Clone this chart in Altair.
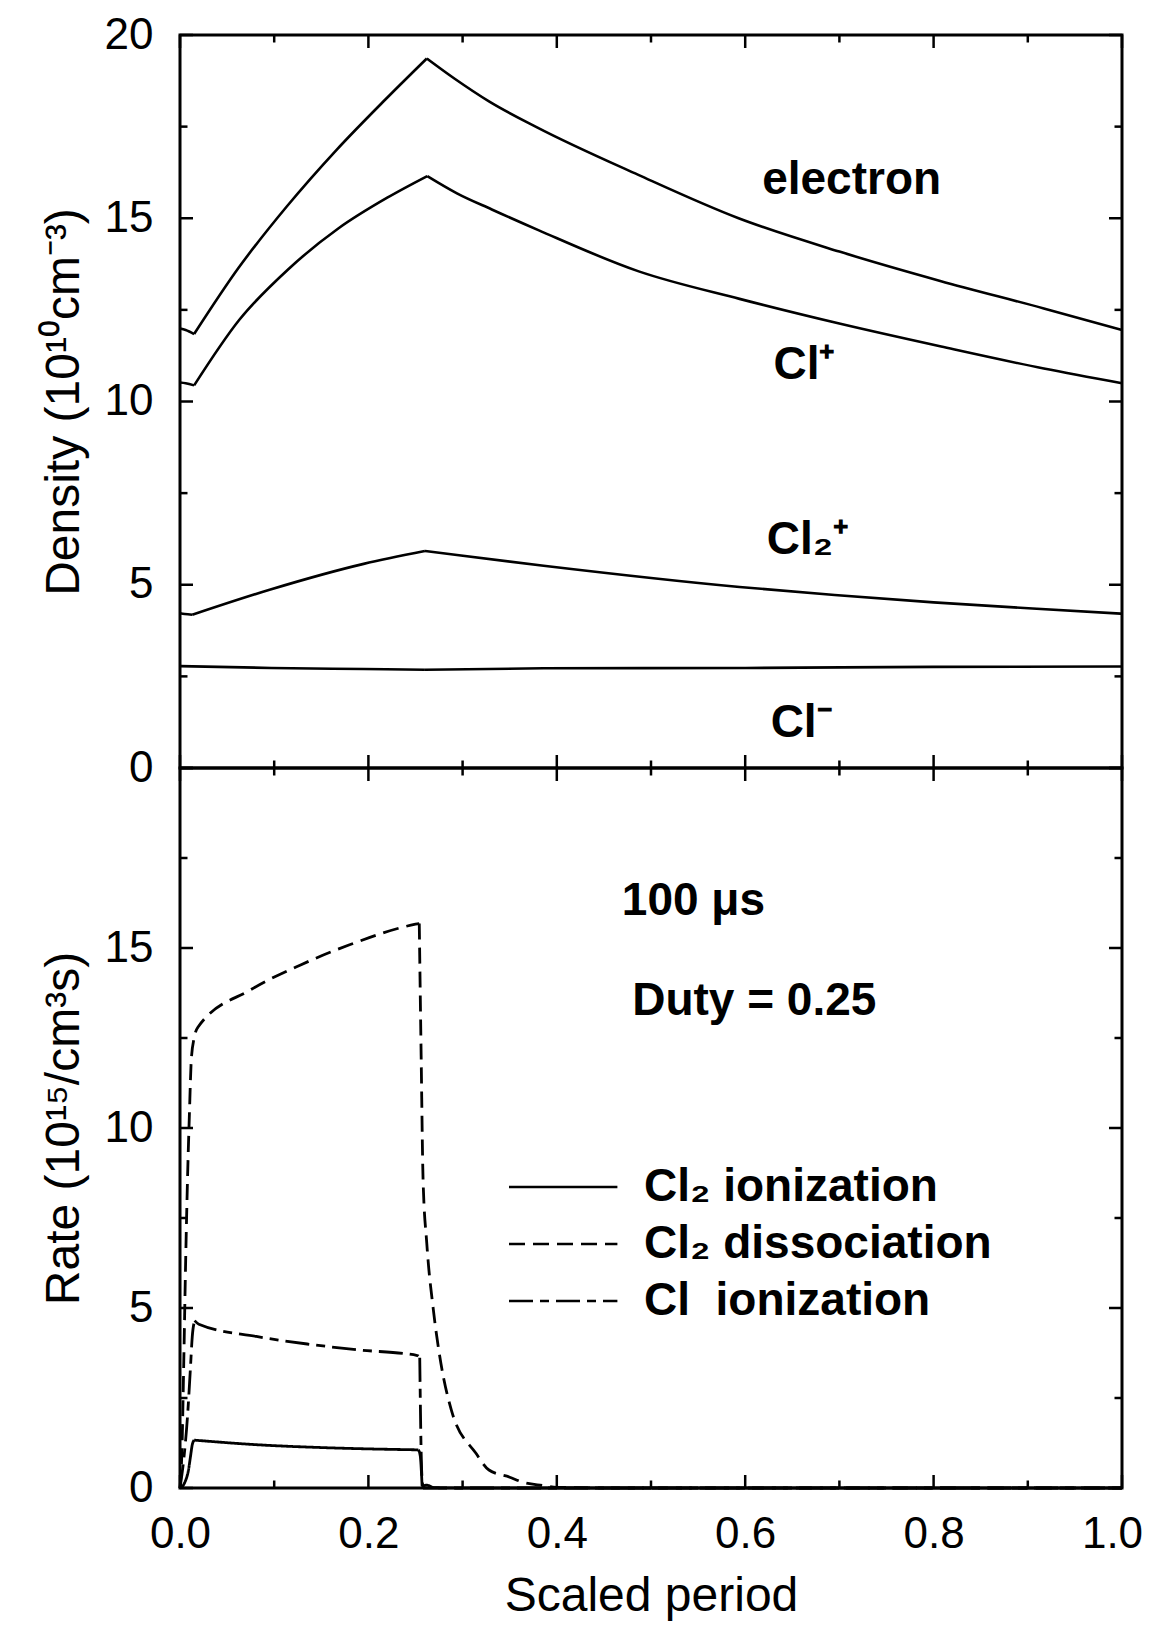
import altair as alt
import pandas as pd

# ---------------- values ----------------
# Upper panel: densities (10^10 cm^-3) against scaled period
electron_x = [0.0, 0.006, 0.015, 0.062, 0.114, 0.166, 0.218, 0.262, 0.292, 0.328, 0.379, 0.486, 0.593, 0.700, 0.807, 0.917, 1.0]
electron_y = [11.99, 11.95, 11.84, 13.64, 15.34, 16.86, 18.24, 19.36, 18.80, 18.19, 17.48, 16.19, 15.0, 14.09, 13.29, 12.54, 11.95]
clp_x = [0.0, 0.006, 0.015, 0.063, 0.115, 0.168, 0.220, 0.2625, 0.294, 0.331, 0.381, 0.487, 0.594, 0.701, 0.808, 0.917, 1.0]
clp_y = [10.52, 10.50, 10.44, 12.23, 13.61, 14.72, 15.56, 16.15, 15.68, 15.24, 14.67, 13.55, 12.80, 12.12, 11.50, 10.90, 10.50]
cl2p_x = [0.0, 0.005, 0.013, 0.096, 0.195, 0.260, 0.294, 0.386, 0.594, 0.695, 0.80, 0.905, 1.0]
cl2p_y = [4.22, 4.20, 4.18, 4.87, 5.57, 5.92, 5.81, 5.52, 4.94, 4.72, 4.52, 4.35, 4.21]
clm_x = [0.0, 0.097, 0.195, 0.26, 0.386, 0.6, 0.8, 1.0]
clm_y = [2.78, 2.73, 2.70, 2.68, 2.72, 2.73, 2.76, 2.77]

# Lower panel: rates (10^15 /cm^3 s) against scaled period
cl2_ion_x = [0.0, 0.005, 0.009, 0.011, 0.013, 0.015, 0.083, 0.154, 0.253, 0.255, 0.257, 0.262, 0.27, 0.30, 1.0]
cl2_ion_y = [0.0, 0.15, 0.5, 0.85, 1.2, 1.33, 1.20, 1.12, 1.06, 0.9, 0.05, 0.08, 0.01, 0.0, 0.0]
cl2_dis_x = [0.0, 0.002, 0.004, 0.006, 0.008, 0.010, 0.012, 0.015, 0.019, 0.075, 0.128, 0.180, 0.250, 0.254,
             0.256, 0.258, 0.262, 0.269, 0.277, 0.288, 0.314, 0.328, 0.35, 0.364, 0.385, 0.40, 0.45, 1.0]
cl2_dis_y = [0.0, 1.0, 3.5, 6.3, 8.6, 10.4, 11.9, 12.5, 12.8, 13.84, 14.53, 15.09, 15.66, 15.68,
             12.0, 8.6, 6.79, 4.94, 3.46, 2.17, 0.97, 0.5, 0.3, 0.16, 0.07, 0.02, 0.0, 0.0]
cl_ion_x = [0.0, 0.004, 0.008, 0.011, 0.013, 0.0155, 0.02, 0.081, 0.135, 0.188, 0.252, 0.2545, 0.2565, 0.258, 1.0]
cl_ion_y = [0.0, 0.8, 2.0, 3.3, 4.2, 4.65, 4.55, 4.21, 4.00, 3.84, 3.68, 3.62, 0.5, 0.0, 0.0]

# x positions where a curve has a sharp corner (curve is split there)
electron_corners = [0.015, 0.262]
clp_corners = [0.015, 0.2625]
cl2p_corners = [0.013, 0.260]
clm_corners = [0.26]
cl2_ion_corners = [0.015, 0.253, 0.257]
cl2_dis_corners = [0.254, 0.45]
cl_ion_corners = [0.0155, 0.2545, 0.258]

density_names = ["electron", "Cl+", "Cl2+", "Cl-"]
rate_names = ["Cl\u2082 ionization", "Cl\u2082 dissociation", "Cl\u00a0 ionization"]

x_major_ticks = [0.0, 0.2, 0.4, 0.6, 0.8, 1.0]
x_minor_ticks = [0.1, 0.3, 0.5, 0.7, 0.9]
y_major_ticks = [0, 5, 10, 15, 20]
y_minor_ticks = [2.5, 7.5, 12.5, 17.5]
top_y_labels = [0, 5, 10, 15, 20]
bot_y_labels = [0, 5, 10, 15]

# ---------------- layout / style ----------------
W, H_TOP, H_BOT = 942, 733, 720
FONT = "Liberation Sans"
MAJ, MIN = 13, 7.5
TICK_W = 2.5


def long_df(series):
    rows = []
    for name, xs, ys, corners in series:
        seg = 0
        for a, b in zip(xs, ys):
            rows.append({"s": name, "seg": seg, "x": a, "y": b})
            if a in corners:
                seg += 1
                rows.append({"s": name, "seg": seg, "x": a, "y": b})
    return pd.DataFrame(rows)


df_top = long_df([(density_names[0], electron_x, electron_y, electron_corners),
                  (density_names[1], clp_x, clp_y, clp_corners),
                  (density_names[2], cl2p_x, cl2p_y, cl2p_corners),
                  (density_names[3], clm_x, clm_y, clm_corners)])
df_bot = long_df([(rate_names[0], cl2_ion_x, cl2_ion_y, cl2_ion_corners),
                  (rate_names[1], cl2_dis_x, cl2_dis_y, cl2_dis_corners),
                  (rate_names[2], cl_ion_x, cl_ion_y, cl_ion_corners)])

xscale = alt.Scale(domain=[0, 1], nice=False, zero=False)
yscale = alt.Scale(domain=[0, 20], nice=False, zero=False)

common_axis = dict(ticks=False, tickSize=0, domain=False, grid=False,
                   labelFont=FONT, labelFontSize=44, labelColor="black",
                   labelFlush=False, labelOverlap=False,
                   titleFont=FONT, titleFontSize=48, titleFontWeight="normal",
                   titleColor="black")

X_top = alt.X("x:Q", scale=xscale, axis=None)
Y_top = alt.Y("y:Q", scale=yscale,
              axis=alt.Axis(values=top_y_labels, title="Density (10\u00b9\u2070cm\u207b\u00b3)",
                            labelPadding=27, titlePadding=16, **common_axis))
X_bot = alt.X("x:Q", scale=xscale,
              axis=alt.Axis(values=x_major_ticks, format=".1f", title="Scaled period",
                            labelPadding=24, titlePadding=16,
                            labelOffset={"condition": {"test": "datum.value >= 1", "value": -10}, "value": 0},
                            **common_axis))
Y_bot = alt.Y("y:Q", scale=yscale,
              axis=alt.Axis(values=bot_y_labels, title="Rate (10\u00b9\u2075/cm\u00b3s)",
                            labelPadding=27, titlePadding=16, **common_axis))


def tick_layers(X, Y, H, top_ticks, bottom_mode):
    out = []
    for vals, ln in [(x_major_ticks, MAJ), (x_minor_ticks, MIN)]:
        d = pd.DataFrame({"x": vals})
        base = alt.Chart(d).mark_rule(color="black", strokeWidth=TICK_W)
        if top_ticks:
            out.append(base.encode(x=X, y=alt.value(0), y2=alt.value(ln)))
        if bottom_mode == "cross":
            out.append(base.encode(x=X, y=alt.value(H - ln), y2=alt.value(H + ln)))
        elif bottom_mode == "in":
            out.append(base.encode(x=X, y=alt.value(H), y2=alt.value(H - ln)))
    for vals, ln in [(y_major_ticks, MAJ), (y_minor_ticks, MIN)]:
        d = pd.DataFrame({"y": vals})
        base = alt.Chart(d).mark_rule(color="black", strokeWidth=TICK_W)
        out.append(base.encode(y=Y, x=alt.value(0), x2=alt.value(ln)))
        out.append(base.encode(y=Y, x=alt.value(W), x2=alt.value(W - ln)))
    return out


# annotation texts (positions in data units)
top_notes = pd.DataFrame({
    "x": [0.618, 0.630, 0.623, 0.627],
    "y": [15.66, 10.61, 5.84, 0.85],
    "label": ["electron", "Cl\u207a", "Cl\u2082\u207a", "Cl\u207b"],
})
bot_notes = pd.DataFrame({
    "x": [0.469, 0.480],
    "y": [15.92, 13.14],
    "label": ["100 \u03bcs", "Duty = 0.25"],
})

top_lines = alt.Chart(df_top).mark_line(color="black", strokeWidth=2.6, interpolate="monotone").encode(
    x=X_top, y=Y_top, detail=["s:N", "seg:N"])
top_text = alt.Chart(top_notes).mark_text(
    font=FONT, fontWeight="bold", fontSize=46, align="left", baseline="alphabetic",
    color="black").encode(x=X_top, y=Y_top, text="label:N")

top = alt.layer(top_lines, top_text, *tick_layers(X_top, Y_top, H_TOP, True, "cross")).properties(
    width=W, height=H_TOP)

dash_range = [[1, 0], [16, 8], [24, 7, 9, 7]]
bot_lines = alt.Chart(df_bot).mark_line(color="black", strokeWidth=2.8, interpolate="monotone").encode(
    x=X_bot, y=Y_bot, detail="seg:N",
    strokeDash=alt.StrokeDash(
        "s:N", scale=alt.Scale(domain=rate_names, range=dash_range),
        legend=alt.Legend(title=None, orient="none", legendX=306, legendY=396,
                          symbolType="M0,0H5", symbolSize=1880, symbolStrokeWidth=2.6,
                          symbolStrokeColor="black", symbolFillColor="transparent",
                          labelFont=FONT, labelFontWeight="bold",
                          labelFontSize=46, labelColor="black", labelOffset=112,
                          rowPadding=11, padding=0, labelLimit=0)))
bot_text = alt.Chart(bot_notes).mark_text(
    font=FONT, fontWeight="bold", fontSize=46, align="left", baseline="alphabetic",
    color="black").encode(x=X_bot, y=Y_bot, text="label:N")

bottom = alt.layer(bot_lines, bot_text, *tick_layers(X_bot, Y_bot, H_BOT, False, "in")).properties(
    width=W, height=H_BOT)

chart = alt.vconcat(top, bottom, spacing=0, bounds="flush").resolve_scale(
    strokeDash="independent").resolve_legend(strokeDash="independent").configure(
    padding={"left": 30, "top": 3, "right": 0, "bottom": 0},
    background="white", font=FONT).configure_view(stroke="black", strokeWidth=3)

chart.save("out.html", embed_options={"renderer": "svg", "actions": False})
